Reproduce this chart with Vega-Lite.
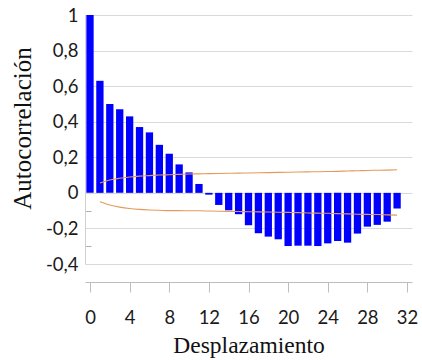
{
  "$schema": "https://vega.github.io/schema/vega-lite/v6.json",
  "autosize": "none",
  "width": 327,
  "height": 249,
  "padding": {"left": 85, "top": 15, "right": 10, "bottom": 96},
  "background": "white",
  "config": {"view": {"stroke": null}},
  "datasets": {
    "acf": [
      {"lag": 0, "value": 1.0},
      {"lag": 1, "value": 0.63},
      {"lag": 2, "value": 0.5},
      {"lag": 3, "value": 0.47},
      {"lag": 4, "value": 0.43},
      {"lag": 5, "value": 0.37},
      {"lag": 6, "value": 0.34},
      {"lag": 7, "value": 0.27},
      {"lag": 8, "value": 0.22},
      {"lag": 9, "value": 0.16},
      {"lag": 10, "value": 0.115},
      {"lag": 11, "value": 0.05},
      {"lag": 12, "value": -0.01},
      {"lag": 13, "value": -0.068},
      {"lag": 14, "value": -0.098},
      {"lag": 15, "value": -0.12},
      {"lag": 16, "value": -0.182},
      {"lag": 17, "value": -0.227},
      {"lag": 18, "value": -0.246},
      {"lag": 19, "value": -0.261},
      {"lag": 20, "value": -0.299},
      {"lag": 21, "value": -0.297},
      {"lag": 22, "value": -0.297},
      {"lag": 23, "value": -0.299},
      {"lag": 24, "value": -0.284},
      {"lag": 25, "value": -0.27},
      {"lag": 26, "value": -0.28},
      {"lag": 27, "value": -0.229},
      {"lag": 28, "value": -0.19},
      {"lag": 29, "value": -0.18},
      {"lag": 30, "value": -0.162},
      {"lag": 31, "value": -0.088}
    ],
    "bounds": [
      {"lag": 1, "side": "upper", "value": 0.055},
      {"lag": 2, "side": "upper", "value": 0.072},
      {"lag": 3, "side": "upper", "value": 0.082},
      {"lag": 4, "side": "upper", "value": 0.089},
      {"lag": 5, "side": "upper", "value": 0.094},
      {"lag": 6, "side": "upper", "value": 0.097},
      {"lag": 7, "side": "upper", "value": 0.1},
      {"lag": 8, "side": "upper", "value": 0.102},
      {"lag": 9, "side": "upper", "value": 0.104},
      {"lag": 10, "side": "upper", "value": 0.106},
      {"lag": 11, "side": "upper", "value": 0.107},
      {"lag": 12, "side": "upper", "value": 0.108},
      {"lag": 13, "side": "upper", "value": 0.109},
      {"lag": 14, "side": "upper", "value": 0.11},
      {"lag": 15, "side": "upper", "value": 0.111},
      {"lag": 16, "side": "upper", "value": 0.112},
      {"lag": 17, "side": "upper", "value": 0.113},
      {"lag": 18, "side": "upper", "value": 0.114},
      {"lag": 19, "side": "upper", "value": 0.115},
      {"lag": 20, "side": "upper", "value": 0.116},
      {"lag": 21, "side": "upper", "value": 0.117},
      {"lag": 22, "side": "upper", "value": 0.118},
      {"lag": 23, "side": "upper", "value": 0.119},
      {"lag": 24, "side": "upper", "value": 0.12},
      {"lag": 25, "side": "upper", "value": 0.121},
      {"lag": 26, "side": "upper", "value": 0.123},
      {"lag": 27, "side": "upper", "value": 0.124},
      {"lag": 28, "side": "upper", "value": 0.126},
      {"lag": 29, "side": "upper", "value": 0.127},
      {"lag": 30, "side": "upper", "value": 0.128},
      {"lag": 31, "side": "upper", "value": 0.13},
      {"lag": 1, "side": "lower", "value": -0.05},
      {"lag": 2, "side": "lower", "value": -0.068},
      {"lag": 3, "side": "lower", "value": -0.08},
      {"lag": 4, "side": "lower", "value": -0.088},
      {"lag": 5, "side": "lower", "value": -0.093},
      {"lag": 6, "side": "lower", "value": -0.096},
      {"lag": 7, "side": "lower", "value": -0.098},
      {"lag": 8, "side": "lower", "value": -0.1},
      {"lag": 9, "side": "lower", "value": -0.1},
      {"lag": 10, "side": "lower", "value": -0.101},
      {"lag": 11, "side": "lower", "value": -0.101},
      {"lag": 12, "side": "lower", "value": -0.102},
      {"lag": 13, "side": "lower", "value": -0.103},
      {"lag": 14, "side": "lower", "value": -0.104},
      {"lag": 15, "side": "lower", "value": -0.105},
      {"lag": 16, "side": "lower", "value": -0.106},
      {"lag": 17, "side": "lower", "value": -0.107},
      {"lag": 18, "side": "lower", "value": -0.108},
      {"lag": 19, "side": "lower", "value": -0.109},
      {"lag": 20, "side": "lower", "value": -0.11},
      {"lag": 21, "side": "lower", "value": -0.111},
      {"lag": 22, "side": "lower", "value": -0.113},
      {"lag": 23, "side": "lower", "value": -0.114},
      {"lag": 24, "side": "lower", "value": -0.115},
      {"lag": 25, "side": "lower", "value": -0.117},
      {"lag": 26, "side": "lower", "value": -0.118},
      {"lag": 27, "side": "lower", "value": -0.12},
      {"lag": 28, "side": "lower", "value": -0.121},
      {"lag": 29, "side": "lower", "value": -0.122},
      {"lag": 30, "side": "lower", "value": -0.124},
      {"lag": 31, "side": "lower", "value": -0.125}
    ]
  },
  "encoding": {
    "x": {
      "field": "lag",
      "type": "quantitative",
      "scale": {"domain": [0, 32], "nice": false},
      "axis": {
        "title": "Desplazamiento",
        "values": [0, 4, 8, 12, 16, 20, 24, 28, 32],
        "grid": false,
        "offset": 18,
        "tickSize": 10,
        "tickColor": "#bdbdbd",
        "domainColor": "#bdbdbd",
        "labelFont": "Lato",
        "labelFontSize": 18.5,
        "labelColor": "#1a1a1a",
        "labelPadding": 16,
        "labelFlush": false,
        "titleFont": "Liberation Serif",
        "titleFontSize": 23.5,
        "titleFontWeight": "normal",
        "titleColor": "#111111",
        "titleBaseline": "alphabetic",
        "titleY": 70
      }
    },
    "y": {
      "field": "value",
      "type": "quantitative",
      "scale": {"domain": [-0.4, 1], "nice": false},
      "axis": {
        "title": "Autocorrelación",
        "values": [-0.4, -0.3, -0.2, -0.1, 0, 0.2, 0.4, 0.6, 0.8, 1],
        "labelExpr": "round(datum.value * 10) % 2 != 0 ? '' : replace(replace(format(datum.value, '~g'), '.', ','), '\u2212', '-')",
        "grid": true,
        "gridColor": "#d9d9d9",
        "gridOpacity": {"condition": {"test": "round(datum.value * 10) % 2 != 0", "value": 0}, "value": 1},
        "tickSize": -6,
        "tickColor": "#b0b0b0",
        "tickOpacity": {"condition": {"test": "round(datum.value * 10) % 2 != 0", "value": 1}, "value": 0},
        "domainColor": "#d0d0d0",
        "labelFont": "Lato",
        "labelFontSize": 18.5,
        "labelColor": "#1a1a1a",
        "labelPadding": 13,
        "labelFlush": false,
        "titleFont": "Liberation Serif",
        "titleFontSize": 25,
        "titleFontWeight": "normal",
        "titleColor": "#111111",
        "titleAngle": -90,
        "titleBaseline": "middle",
        "titleAlign": "center",
        "titleX": -63,
        "titleY": 113
      }
    }
  },
  "layer": [
    {
      "data": {"name": "acf"},
      "mark": {"type": "bar", "orient": "vertical", "color": "#0000ff", "width": 7.3}
    },
    {
      "data": {"name": "bounds"},
      "mark": {"type": "line", "color": "#e39a5c", "strokeWidth": 1.1, "interpolate": "monotone"},
      "encoding": {
        "detail": {"field": "side", "type": "nominal"}
      }
    }
  ]
}
